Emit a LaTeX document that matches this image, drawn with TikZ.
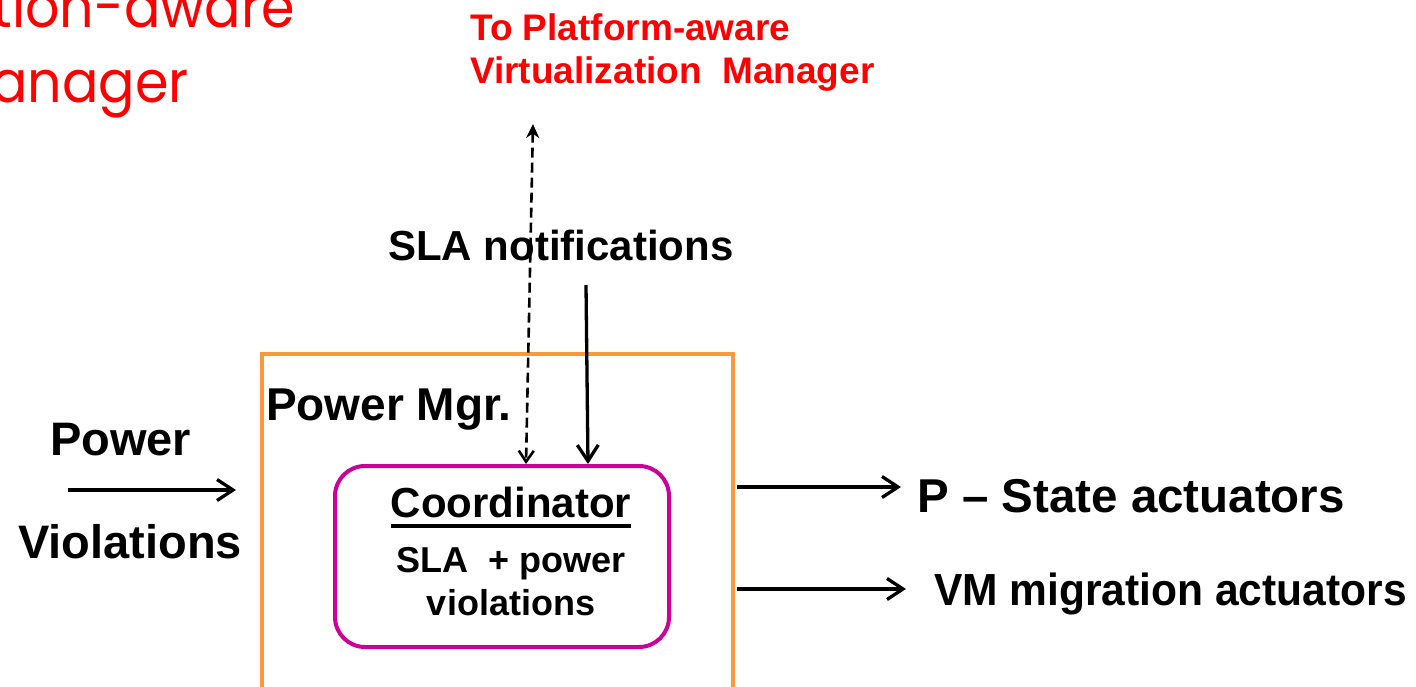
\documentclass[tikz,border=0pt]{standalone}
\usepackage{fontspec}
\setmainfont{Liberation Sans}
\newfontfamily\geofont{Poppins}
\usetikzlibrary{arrows.meta,calc}
\definecolor{mgrorange}{RGB}{250,152,60}
\definecolor{coordmag}{RGB}{204,0,153}
\definecolor{notered}{RGB}{255,0,0}
% underline with a rule of fixed depth and thickness
\newcommand\ulinedtext[1]{\setbox0\hbox{#1}\rlap{\rule[-10pt]{\wd0}{3.5pt}}\box0}
\begin{document}
\begin{tikzpicture}[x=1pt,y=-1pt,
  lbl/.style={inner sep=0pt, font=\bfseries},
  flow/.style={line width=3.3pt, -{Straight Barb[length=16pt,width=21pt,line width=3.3pt]}},
  notify/.style={line width=2.6pt, dash pattern=on 10pt off 5pt,
    {Stealth[length=14pt,width=13pt]}-{Straight Barb[length=11pt,width=15pt]}},
  mgrbox/.style={draw=mgrorange, line width=3.6pt, inner sep=0pt},
  coordbox/.style={draw=coordmag, line width=4pt, rounded corners=30pt, inner sep=0pt},
  headtxt/.style={anchor=base east, inner sep=0pt, text=notered, font=\geofont\fontsize{58}{70}\selectfont}]
\useasboundingbox (0,0) rectangle (1416,687);
\clip (0,0) rectangle (1416,687);

% heading running in from the left edge
\node[headtxt] (headA) at (295,28) {\scalebox{0.93}[1]{Application-aware}};
\node[headtxt] (headB) at (189,103) {\scalebox{0.93}[1]{Manager}};

% destination of the SLA notifications
\node[lbl, text=notered, font=\bfseries\fontsize{37}{43}\selectfont, align=left, anchor=north west] (vmgr) at (470,13) {To Platform-aware\\Virtualization\ \ Manager};
\node[lbl, anchor=base west, font=\bfseries\fontsize{42}{50}\selectfont] (sla) at (388,260) {SLA notifications};

% power manager and its coordinator
\node[mgrbox, minimum width=471pt, minimum height=420pt, anchor=north west] (pm) at (260,352) {};
\node[lbl, anchor=base west, font=\bfseries\fontsize{46}{55}\selectfont] (pmlbl) at (266,420) {Power Mgr.};
\node[coordbox, minimum width=334pt, minimum height=181pt, anchor=north west] (coord) at (333,464) {};
\node[lbl, align=center, anchor=north, font=\bfseries\fontsize{36}{43}\selectfont] (coordtxt) at (511,487)
  {{\fontsize{42}{55}\selectfont\ulinedtext{Coordinator}}\\[12pt]SLA\ \ + power\\violations};

% inputs
\node[lbl, anchor=base west, font=\bfseries\fontsize{47}{56}\selectfont] (pwr) at (50,455) {Power};
\node[lbl, anchor=base west, font=\bfseries\fontsize{47}{56}\selectfont] (viol) at (18,558) {Violations};
\coordinate (pvstart) at (68,490);
\coordinate (pvend) at (236,490);
\draw[flow] (pvstart) -- (pvend);

\coordinate (vmtop) at (533,124);
\draw[notify] (vmtop) -- ([xshift=24pt]coord.north);
\coordinate (slatop) at (586,285);
\draw[flow] (slatop) -- ([xshift=86pt]coord.north);

% outputs
\node[lbl, anchor=base west, font=\bfseries\fontsize{47.5}{56}\selectfont] (pstate) at (917,512) {P -- State actuators};
\node[lbl, anchor=base west, font=\bfseries\fontsize{45}{54}\selectfont] (vmmig) at (934,605) {\scalebox{0.945}[1]{VM migration actuators}};
\coordinate (psend) at (901,487);
\coordinate (vmend) at (906,589);
\draw[flow] ($(pm.east |- psend)+(2,0)$) -- (psend);
\draw[flow] ($(pm.east |- vmend)+(2,0)$) -- (vmend);
\end{tikzpicture}
\end{document}
